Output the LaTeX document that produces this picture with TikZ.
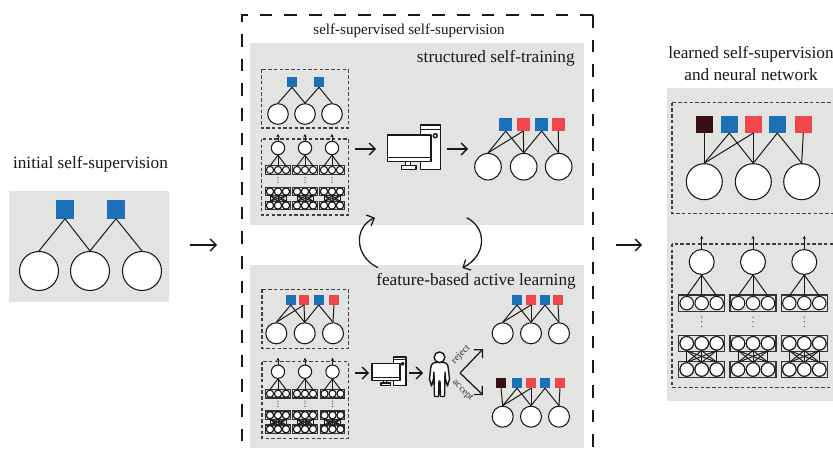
\documentclass[tikz,border=0pt]{standalone}
\usepackage{fontspec}
\setmainfont{Liberation Serif}
\usetikzlibrary{arrows.meta, positioning, calc}

\definecolor{panelgray}{HTML}{E3E3E1}
\definecolor{leafblue}{HTML}{1B70B8}
\definecolor{leafred}{HTML}{F1474C}
\definecolor{leafdark}{HTML}{3A0F14}
\colorlet{inkline}{black!90}

\tikzset{
  panel/.style={fill=panelgray, draw=none},
  title/.style={font=\fontsize{12.95}{15}\selectfont, text=black!90, inner sep=0pt},
  flow/.style={draw=inkline, line width=0.95pt, -{Straight Barb[length=4.5pt,width=9pt]}},
  link/.style={draw=inkline, line width=0.75pt},
  feed/.style={draw=inkline, line width=0.7pt, -{Stealth[length=2.5pt,width=2.5pt]}},
  leaf/.style={rectangle, draw=none, inner sep=0pt},
  unit/.style={circle, draw=inkline, fill=white, line width=0.8pt, inner sep=0pt},
  band/.style={rectangle, draw=black!80, fill=panelgray, line width=0.95pt, inner sep=0pt},
  group/.style={draw=black!75, line width=0.85pt, dash pattern=on 2.6pt off 1.7pt},
  hull/.style={draw=inkline, fill=white, line width=1.05pt, line join=round}
}

% squares of one tree: name, y, size, list of index/x/colour
\newcommand{\leafrow}[4]{
  \foreach \i/\x/\c in {#4}
    \node[leaf, fill=\c, minimum size=#3*0.75pt] (#1s\i) at (\x,#2) {};
}
% circles of one tree: name, y, radius, list of index/x
\newcommand{\unitrow}[4]{
  \foreach \i/\x in {#4}
    \node[unit, minimum size=#3*1.5pt] (#1c\i) at (\x,#2) {};
}
% square to circle connectors
\newcommand{\treelinks}[2]{
  \foreach \a/\b in {#2}
    \draw[link] (#1s\a.south) -- (#1c\b.north);
}
% one band of three small circles: name, x, y, scale
\newcommand{\unitband}[4]{
  \node[band, minimum width=#4*18.5pt, minimum height=#4*6.5pt] (#1) at (#2,#3) {};
  \foreach \i/\d in {1/-8,2/0,3/8}
    \node[unit, minimum size=#4*5.4pt] (#1u\i) at ({#2+\d*#4},#3) {};
}
% network column: name, x, y of top circle, scale
\newcommand{\netcolumn}[4]{
  \coordinate (#1out) at (#2,{#3-14*#4});
  \node[unit, minimum size=#4*10pt] (#1top) at (#2,#3) {};
  \draw[feed] (#1top.north) -- (#1out);
  \unitband{#1a}{#2}{#3+22*#4}{#4}
  \unitband{#1b}{#2}{#3+43.5*#4}{#4}
  \unitband{#1d}{#2}{#3+57.5*#4}{#4}
  \foreach \i in {1,2,3}
    \draw[link] (#1top.south) -- (#1au\i.north);
  \foreach \i in {1,2,3}
    \foreach \j in {1,2,3}
      \draw[link] (#1bu\i.south) -- (#1du\j.north);
  \foreach \i in {1,2,3}
    \node[unit, minimum size=#4*5.4pt] at (#1bu\i) {};
  \foreach \i in {1,2,3}
    \node[unit, minimum size=#4*5.4pt] at (#1du\i) {};
  \foreach \d in {29.5,32,34.5}
    \fill[black!75] (#2,{#3+\d*#4}) circle (0.5pt);
}
% desktop: monitor corner x, y, scale
\newcommand{\desktop}[3]{
  \begin{scope}[shift={(#1,#2)}, x=#3*0.75pt, y=-#3*0.75pt]
    \draw[hull] (33.4,-10) rectangle (53.4,34.3);
    \draw[hull] (33.4,-5.7) -- (53.4,-5.7);
    \draw[hull] (48,0.7) circle (2);
    \draw[hull] (18,26.7) rectangle (23,30.7);
    \draw[hull] (14,30.7) rectangle (28.5,34.3);
    \draw[hull] (0,0) rectangle (43.7,26.7);
    \draw[hull] (0,22.3) -- (43.7,22.3);
  \end{scope}
}

\begin{document}
\begin{tikzpicture}[x=0.75pt, y=-0.75pt]
\useasboundingbox (0,0) rectangle (833,453);
\clip (0,0) rectangle (833,453);
\fill[white] (0,0) rectangle (833,453);

% gray panels
\fill[panel] (9,191) rectangle (169,302);
\fill[panel] (250,43) rectangle (584,225);
\fill[panel] (250,265) rectangle (584,448);
\fill[panel] (667,88) rectangle (845,401);

% outer dashed frame
\draw[black!90, line width=1.1pt, dash pattern=on 9.5pt off 9pt] (593,15) -- (242,15) -- (242,470);
\draw[black!90, line width=1.1pt, dash pattern=on 9.5pt off 9pt] (593,15) -- (593,470);

% titles
\node[title] (tinitial) at (90.5,164) {initial self-supervision};
\node[title, font=\fontsize{11.3}{13}\selectfont] (tself) at (409,31) {self-supervised self-supervision};
\node[title, anchor=east] (tstruct) at (575,58) {structured self-training};
\node[title, anchor=east] (tfeat) at (576,281) {feature-based active learning};
\node[title, align=center] (tlearn) at (751,63.5) {learned self-supervision\\[1pt]and neural network};

% initial tree
\leafrow{ini}{209.5}{18}{1/65/leafblue, 2/116/leafblue}
\unitrow{ini}{271}{19.5}{1/39, 2/90, 3/142}
\treelinks{ini}{1/1, 1/2, 2/2, 2/3}

% main arrows
\coordinate (fa1) at (190,245);
\coordinate (fa2) at (217,245);
\coordinate (fb1) at (616,245);
\coordinate (fb2) at (642,245);
\draw[flow] (fa1) -- (fa2);
\draw[flow] (fb1) -- (fb2);

% structured self-training
\draw[group] (261.5,69.5) rectangle (348.5,128);
\leafrow{sa}{82}{10}{1/292/leafblue, 2/319/leafblue}
\unitrow{sa}{114}{10.3}{1/278, 2/305, 3/332}
\treelinks{sa}{1/1, 1/2, 2/2, 2/3}

\draw[group] (261.5,139) rectangle (348.5,215);
\netcolumn{sn1}{278}{148}{1}
\netcolumn{sn2}{305}{148}{1}
\netcolumn{sn3}{332}{148}{1}

\coordinate (sf1) at (354.5,149);
\coordinate (sf2) at (376,149);
\coordinate (sf3) at (447,149);
\coordinate (sf4) at (468,149);
\draw[flow] (sf1) -- (sf2);
\desktop{387.3}{135}{1}
\draw[flow] (sf3) -- (sf4);

\leafrow{sb}{124.3}{13}{1/505.7/leafblue, 2/523.3/leafred, 3/541.7/leafblue, 4/558.3/leafred}
\unitrow{sb}{166.7}{13.3}{1/488, 2/523.7, 3/558.7}
\treelinks{sb}{1/1, 1/2, 2/1, 2/2, 3/2, 3/3, 4/3}

% cycle between the panels
\coordinate (la) at (378,267.7);
\coordinate (lb) at (375,217.7);
\coordinate (ra) at (466.7,217.7);
\coordinate (rb) at (462.3,268);
\draw[flow] (la) .. controls (354,256) and (354,227) .. (lb);
\draw[flow] (ra) .. controls (487,228) and (487,255) .. (rb);

% feature-based active learning
\draw[group] (262,289.3) rectangle (348.3,348.3);
\leafrow{fa}{299.7}{10}{1/290.7/leafblue, 2/304/leafred, 3/318.7/leafblue, 4/334/leafred}
\unitrow{fa}{333.3}{10.5}{1/276.3, 2/304.7, 3/333}
\treelinks{fa}{1/1, 1/2, 2/1, 2/2, 3/2, 3/3, 4/3}

\draw[group] (262,361.7) rectangle (348.3,438.3);
\netcolumn{fn1}{278}{371.7}{1}
\netcolumn{fn2}{305}{371.7}{1}
\netcolumn{fn3}{332.5}{371.7}{1}

\coordinate (ff1) at (355,373);
\coordinate (ff2) at (369,373);
\coordinate (ff3) at (409,373);
\coordinate (ff4) at (423,373);
\draw[flow] (ff1) -- (ff2);
\desktop{372}{363.3}{0.64}
\draw[flow] (ff3) -- (ff4);

% person
\draw[hull] (435.5,362.5) .. controls (431.5,363) and (431,365) .. (430.5,370)
  -- (429.5,379) -- (431.5,386) -- (433.5,379) -- (434,372)
  -- (434.2,385) -- (434.5,396.5) -- (438.5,396.5) -- (439,381)
  -- (440,381) -- (440.5,396.5) -- (444.5,396.5) -- (444.8,385) -- (445,372)
  -- (445.5,379) -- (447.5,386) -- (449.5,379) -- (448.5,370)
  .. controls (448,365) and (447.5,363) .. (443.5,362.5) -- cycle;
\node[unit, line width=1.05pt, minimum size=8pt] (head) at (439.5,357.3) {};

\coordinate (fork) at (460,373);
\coordinate (rejtip) at (483,349);
\coordinate (acctip) at (483,395);
\draw[flow] (fork) -- (rejtip);
\draw[flow] (fork) -- (acctip);
\node[font=\fontsize{7.4}{9}\selectfont, text=black!80, rotate=45, inner sep=0pt] (lreject) at (461,355) {reject};
\node[font=\fontsize{7.4}{9}\selectfont, text=black!80, rotate=-45, inner sep=0pt] (laccept) at (462.5,390.5) {accept};

\leafrow{fb}{299.7}{10}{1/517/leafblue, 2/531/leafred, 3/545/leafblue, 4/558/leafred}
\unitrow{fb}{333.3}{10.5}{1/502.7, 2/531, 3/559}
\treelinks{fb}{1/1, 1/2, 2/1, 2/2, 3/2, 3/3, 4/3}

\leafrow{fc}{383}{10}{0/501/leafdark, 1/517/leafblue, 2/531/leafred, 3/545/leafblue, 4/560/leafred}
\unitrow{fc}{416.7}{10.5}{1/502.7, 2/531, 3/559}
\treelinks{fc}{0/1, 1/1, 1/2, 2/1, 2/2, 3/2, 3/3, 4/3}

% learned network
\draw[group] (672,102.7) rectangle (850,213.3);
\leafrow{ln}{124.3}{17}{0/704.3/leafdark, 1/729.3/leafblue, 2/753.3/leafred, 3/777.3/leafblue, 4/803.3/leafred}
\unitrow{ln}{181.7}{18}{1/704.3, 2/753.3, 3/801.7}
\treelinks{ln}{0/1, 1/1, 1/2, 2/1, 2/2, 3/2, 3/3, 4/3}

\draw[group] (672,244) rectangle (850,387.3);
\netcolumn{ln1}{701.7}{262}{1.87}
\netcolumn{ln2}{753}{262}{1.87}
\netcolumn{ln3}{804.3}{262}{1.87}
\end{tikzpicture}
\end{document}
